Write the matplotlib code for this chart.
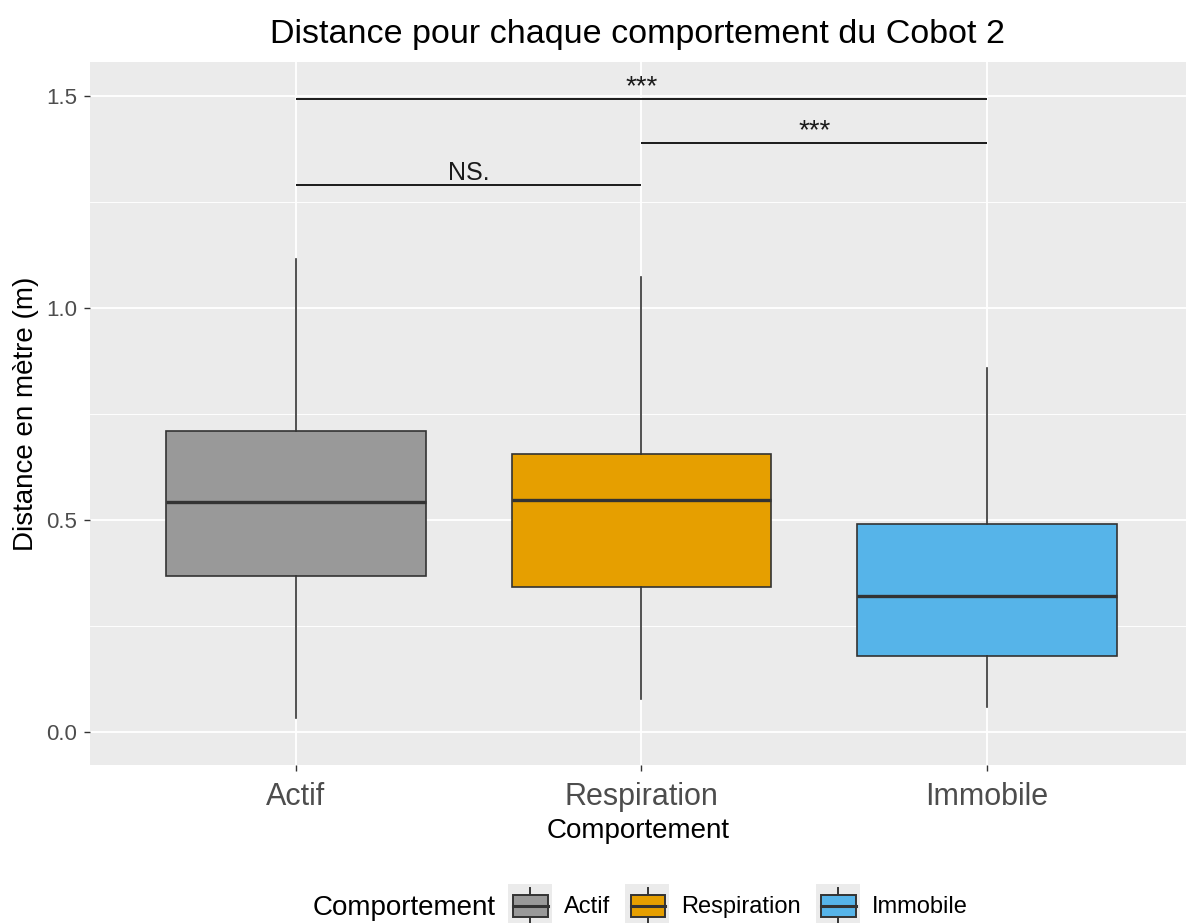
import matplotlib
matplotlib.use("Agg")
import matplotlib.pyplot as plt
from matplotlib.patches import Rectangle, Patch
from matplotlib.lines import Line2D
from matplotlib.legend_handler import HandlerBase
from matplotlib.ticker import MultipleLocator

plt.rcParams['font.family'] = ['Liberation Sans', 'DejaVu Sans']

# ---------------- data ----------------
categories = ["Actif", "Respiration", "Immobile"]
colors = ["#999999", "#E69F00", "#56B4E9"]
whisker_low = [0.033, 0.078, 0.059]
q1 = [0.368, 0.342, 0.179]
median = [0.542, 0.547, 0.321]
q3 = [0.710, 0.656, 0.491]
whisker_high = [1.116, 1.073, 0.858]

sig_pairs = [(0, 1), (1, 2), (0, 2)]
sig_heights = [1.290, 1.389, 1.493]
sig_labels = ["NS.", "***", "***"]

title = "Distance pour chaque comportement du Cobot 2"
xlabel = "Comportement"
ylabel = "Distance en mètre (m)"
yticks = [0.0, 0.5, 1.0, 1.5]
ytick_labels = ["0.0", "0.5", "1.0", "1.5"]

# ---------------- figure ----------------
W, H = 1186, 923
fig = plt.figure(figsize=(W / 100, H / 100), dpi=100)
ax = fig.add_axes([90 / W, 1 - 765 / H, 1 - 90 / W, (765 - 62) / H])
ax.set_facecolor("#EBEBEB")
for s in ax.spines.values():
    s.set_visible(False)

edge = "#333333"
positions = list(range(len(categories)))
stats = []
for i, c in enumerate(categories):
    stats.append(dict(label=c, whislo=whisker_low[i], q1=q1[i], med=median[i],
                      q3=q3[i], whishi=whisker_high[i], fliers=[]))
bp = ax.bxp(stats, positions=positions, widths=0.75, patch_artist=True,
            showcaps=False, showfliers=False,
            boxprops=dict(edgecolor=edge, linewidth=1.2),
            medianprops=dict(color=edge, linewidth=2.4, solid_capstyle='butt'),
            whiskerprops=dict(color=edge, linewidth=1.2),
            zorder=3)
for patch, col in zip(bp['boxes'], colors):
    patch.set_facecolor(col)

# significance bars
for (a, b), h, lab in zip(sig_pairs, sig_heights, sig_labels):
    ax.plot([a, b], [h, h], color="#1a1a1a", lw=1.4, zorder=4, solid_capstyle='butt')
    ax.text((a + b) / 2, h + 0.012, lab, ha='center', va='baseline',
            fontsize=18 if lab != "***" else 20, color="#1a1a1a", zorder=5)

ax.set_xlim(-0.596, 2.576)
ax.set_ylim(-0.078, 1.580)
ax.set_xticks(positions)
ax.set_xticklabels(categories)
ax.set_yticks(yticks)
ax.set_yticklabels(ytick_labels)
ax.yaxis.set_minor_locator(MultipleLocator(0.25))
ax.grid(True, which='major', color='white', lw=1.3, zorder=0)
ax.grid(True, which='minor', axis='y', color='white', lw=0.65, zorder=0)
ax.set_axisbelow(True)
ax.tick_params(axis='both', which='major', length=4.3, width=1.0, color='#333333')
ax.tick_params(axis='y', which='minor', length=0)
ax.tick_params(axis='x', labelsize=22, labelcolor='#4D4D4D', pad=8)
ax.tick_params(axis='y', labelsize=16, labelcolor='#4D4D4D', pad=5)

ax.set_title(title, fontsize=24.5, pad=14, color='black')
ax.set_xlabel(xlabel, fontsize=20, labelpad=4)
ax.set_ylabel(ylabel, fontsize=20, labelpad=5)


# ---------------- legend ----------------
class BoxKeyHandler(HandlerBase):
    def create_artists(self, legend, orig_handle, xdescent, ydescent, width, height,
                       fontsize, trans):
        x0, y0 = -xdescent, -ydescent
        bg = Rectangle((x0, y0), width, height, facecolor="#EBEBEB", edgecolor='none',
                       transform=trans)
        bx = Rectangle((x0 + 0.12 * width, y0 + 0.24 * height), 0.78 * width, 0.52 * height,
                       facecolor=orig_handle.get_facecolor(), edgecolor=edge, lw=1.4,
                       transform=trans)
        cx = x0 + 0.51 * width
        w1 = Line2D([cx, cx], [y0 + 0.76 * height, y0 + 0.92 * height], color=edge, lw=1.4,
                    transform=trans)
        w2 = Line2D([cx, cx], [y0 + 0.08 * height, y0 + 0.24 * height], color=edge, lw=1.4,
                    transform=trans)
        md = Line2D([x0 + 0.12 * width, x0 + 0.90 * width], [y0 + height / 2] * 2,
                    color=edge, lw=2.2, transform=trans)
        return [bg, w1, w2, bx, md]


handles = [Patch(facecolor=c) for c in colors]
fig.text(496 / W, 1 - 908 / H, "Comportement", fontsize=20, ha='right', va='center')
leg = fig.legend(handles, categories, loc='center left',
                 bbox_to_anchor=(508 / W, 1 - 906 / H), ncol=3, frameon=False,
                 fontsize=17, handler_map={Patch: BoxKeyHandler()},
                 handlelength=1.86, handleheight=2.49, handletextpad=0.51,
                 columnspacing=0.64, borderpad=0, borderaxespad=0)

fig.savefig("out.png", dpi=100)
